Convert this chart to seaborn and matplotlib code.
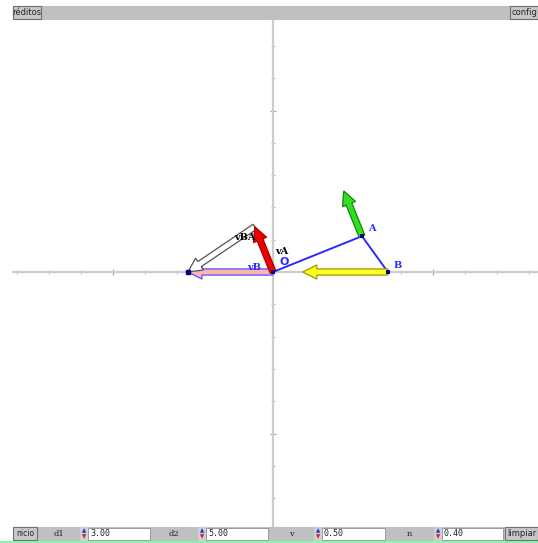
import numpy as np
import pandas as pd
import matplotlib
matplotlib.use("Agg")
import matplotlib.pyplot as plt
from matplotlib.patches import Rectangle
from matplotlib.ticker import MultipleLocator
import seaborn as sns

# linkage points (units)
POINT_NAMES = ["O", "A", "B"]
POINT_X = [0.0, 2.78, 3.59]
POINT_Y = [0.0, 1.11, 0.0]

# velocity vectors
VA = [-0.57, 1.40]
VB = [-2.66, 0.0]

# control bar values
PARAM_NAMES = ["d1", "d2", "v", "n"]
PARAM_VALUES = ["3.00", "5.00", "0.50", "0.40"]

W, H = 538, 543
sns.set_style("white")
fig = plt.figure(figsize=(W / 100, H / 100), dpi=100)
fig.patch.set_facecolor("white")


def fx(px):
    return px / W


def fy(py):
    return 1 - py / H


ax = fig.add_axes([fx(13), fy(527), (538 - 13) / W, (527 - 20) / H])
ax.set_xlim(-260 / 32, 265 / 32)
ax.set_ylim(-255 / 32.3, 252 / 32.3)

# axes through origin
for side in ["top", "right"]:
    ax.spines[side].set_visible(False)
for side in ["left", "bottom"]:
    ax.spines[side].set_position("zero")
    ax.spines[side].set_color("#cccccc")
    ax.spines[side].set_linewidth(1.6)
ax.xaxis.set_major_locator(MultipleLocator(5))
ax.xaxis.set_minor_locator(MultipleLocator(1))
ax.yaxis.set_major_locator(MultipleLocator(5))
ax.yaxis.set_minor_locator(MultipleLocator(1))
ax.tick_params(which="both", bottom=True, left=True, labelbottom=False, labelleft=False)
ax.tick_params(which="major", direction="inout", length=5, width=0.8, color="#a0a0a0")
ax.tick_params(which="minor", direction="inout", length=3, width=0.8, color="#bbbbbb")

pts = pd.DataFrame({"name": POINT_NAMES, "x": POINT_X, "y": POINT_Y})
ox, oy = POINT_X[0], POINT_Y[0]
axx, ayy = POINT_X[1], POINT_Y[1]
bx, by = POINT_X[2], POINT_Y[2]

# bars O-A-B
sns.lineplot(data=pts, x="x", y="y", sort=False, color="#2a2aff", linewidth=1.4,
             ax=ax, zorder=3)

arrow_kw = dict(width=0.19, head_width=0.44, head_length=0.44,
                length_includes_head=True, linewidth=0.9, zorder=4)

# velocity of A (green) and of B (yellow) at the points
ax.arrow(axx, ayy, VA[0], VA[1], facecolor="#33dd22", edgecolor="#118811", **arrow_kw)
ax.arrow(bx, by, VB[0], VB[1], facecolor="#ffff22", edgecolor="#999900", **arrow_kw)

# velocity polygon at the origin
vba = [VB[0] - VA[0], VB[1] - VA[1]]
ax.arrow(ox, oy, VB[0], VB[1], facecolor="#ffb4b4", edgecolor="#5050ff", **arrow_kw)
ax.arrow(ox + VA[0], oy + VA[1], vba[0], vba[1], facecolor="white", edgecolor="#555555",
         **arrow_kw)
ax.arrow(ox, oy, VA[0], VA[1], facecolor="#ee0000", edgecolor="#aa0000", **arrow_kw)

sns.scatterplot(data=pts, x="x", y="y", marker="s", s=10, color="#000080",
                edgecolor="none", ax=ax, zorder=6)
ax.plot([VB[0]], [VB[1]], "s", ms=3, color="#000080", zorder=6)
ax.set_xlabel("")
ax.set_ylabel("")

lab = dict(fontsize=7, fontweight="bold", family="DejaVu Serif", zorder=7)
ax.text(axx + 0.19, ayy + 0.25, "A", color="#2a2aff", ha="left", va="center", **lab)
ax.text(bx + 0.19, by + 0.19, "B", color="#2a2aff", ha="left", va="center", **lab)
ax.text(ox + 0.19, oy + 0.31, "O", color="#2a2aff", ha="left", va="center",
        fontsize=8, fontweight="bold", family="DejaVu Sans", zorder=7)
ax.text(-0.59, 0.14, "vB", color="#2a2aff", ha="center", va="center", **lab)
ax.text(0.06, 0.62, "vA", color="black", ha="left", va="center", **lab)
ax.text(-0.88, 1.08, "vBA", color="black", ha="center", va="center", **lab)


# ---- applet chrome drawn in figure pixels ----
def box(x0, y0, x1, y1, fc, ec=None, lw=0.8):
    fig.patches.append(Rectangle((fx(x0), fy(y1)), (x1 - x0) / W, (y1 - y0) / H,
                                 transform=fig.transFigure, facecolor=fc,
                                 edgecolor=ec if ec else fc, linewidth=lw, zorder=10))


def label(x, y, s, size=6.5, ha="center", family="DejaVu Sans", color="#222222"):
    fig.text(fx(x), fy(y), s, fontsize=size, ha=ha, va="center", family=family,
             color=color, zorder=11)


# top bar
box(13, 6, 538, 19, "#c0c0c0")
box(13, 6, 41, 19, "#c8c8c8", "#707070")
label(27, 12.5, "réditos", size=6)
box(510, 6, 538, 19, "#c8c8c8", "#707070")
label(524, 12.5, "config", size=6)

# bottom bar
box(13, 527, 538, 540, "#c0c0c0")
box(0, 540.5, 538, 542, "#90f0b0")
box(13, 527, 37, 540, "#c8c8c8", "#707070")
label(25, 533.5, "nicio", size=5.5)
groups = [(38, 80, 88, 150), (150, 198, 206, 268), (268, 314, 322, 385), (385, 434, 442, 503)]
for (l0, s0, f0, f1), name, val in zip(groups, PARAM_NAMES, PARAM_VALUES):
    label((l0 + s0) / 2, 533.5, name, size=6, family="DejaVu Serif")
    box(s0, 527, f0, 540, "#d0d0d0")
    fig.text(fx(s0 + 4), fy(531), "▲", fontsize=4, color="#2030d0", ha="center",
             va="center", zorder=11)
    fig.text(fx(s0 + 4), fy(536.5), "▼", fontsize=4, color="#d02020", ha="center",
             va="center", zorder=11)
    box(f0, 527.5, f1, 539.5, "white", "#909090", lw=0.6)
    label(f0 + 2, 533.5, val, size=6, ha="left", family="DejaVu Sans Mono")
box(505, 527, 538, 540, "#c8c8c8", "#707070")
label(521.5, 533.5, "limpiar", size=6)

fig.savefig("out.png", dpi=100, facecolor="white")
